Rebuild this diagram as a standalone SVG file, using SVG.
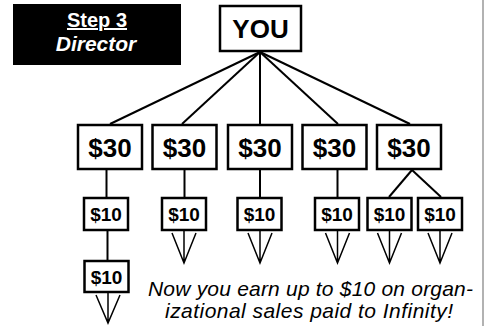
<svg xmlns="http://www.w3.org/2000/svg" width="485" height="326" viewBox="0 0 485 326">
<style>
  .box{fill:#fff;stroke:#000;stroke-width:2.5}
  .con{stroke:#000;stroke-width:2;fill:none}
  .arr{stroke:#000;stroke-width:1.5;fill:none;stroke-linejoin:miter}
  .t30{font-family:"Liberation Sans",Arial,sans-serif;font-weight:bold;font-size:26px;text-anchor:middle;fill:#000}
  .t10{font-family:"Liberation Sans",Arial,sans-serif;font-weight:bold;font-size:19px;text-anchor:middle;fill:#000}
  .note{font-family:"Liberation Sans",Arial,sans-serif;font-style:italic;font-size:21px;fill:#000}
</style>
<rect width="485" height="326" fill="#fff"/>
<line x1="483" y1="0" x2="483" y2="326" stroke="#999" stroke-width="1.5"/>

<g id="title">
  <rect x="13" y="4" width="168" height="61" fill="#000"/>
  <text x="97" y="27" font-family="Liberation Sans,Arial,sans-serif" font-weight="bold" font-size="20" fill="#fff" text-anchor="middle" text-decoration="underline">Step 3</text>
  <text x="96" y="51" font-family="Liberation Sans,Arial,sans-serif" font-weight="bold" font-style="italic" font-size="21" fill="#fff" text-anchor="middle">Director</text>
</g>

<g id="connectors">
  <line class="con" x1="260" y1="52" x2="110" y2="124"/>
  <line class="con" x1="260" y1="52" x2="182" y2="124"/>
  <line class="con" x1="260" y1="52" x2="260" y2="124"/>
  <line class="con" x1="260" y1="52" x2="338" y2="124"/>
  <line class="con" x1="260" y1="52" x2="410" y2="124"/>
  <line class="con" x1="106.5" y1="170" x2="106.5" y2="197"/>
  <line class="con" x1="184.5" y1="170" x2="184.5" y2="197"/>
  <line class="con" x1="260" y1="170" x2="260" y2="197"/>
  <line class="con" x1="337.5" y1="170" x2="337.5" y2="197"/>
  <line class="con" x1="412" y1="170" x2="389" y2="197"/>
  <line class="con" x1="412" y1="170" x2="441" y2="197"/>
  <line class="con" x1="107.5" y1="231" x2="107.5" y2="260"/>
  <!-- arrows -->
  <path class="arr" d="M184,231V263M172,233L184,263L196,233"/>
  <path class="arr" d="M260,231V263M248,233L260,263L272,233"/>
  <path class="arr" d="M337.5,231V263M325.5,233L337.5,263L349.5,233"/>
  <path class="arr" d="M389.5,231V263M377.5,233L389.5,263L401.5,233"/>
  <path class="arr" d="M440,231V263M428,233L440,263L452,233"/>
  <path class="arr" d="M108,292V323M96,295L108,323L120,295"/>
</g>

<g id="you"><rect class="box" x="220" y="6" width="81" height="45"/><text x="260.5" y="38" font-family="Liberation Sans,Arial,sans-serif" font-weight="bold" font-size="26" text-anchor="middle">YOU</text></g>

<g id="l1a"><rect class="box" x="78" y="125" width="64" height="44"/><text class="t30" x="110" y="157">$30</text></g>
<g id="l1b"><rect class="box" x="152.5" y="125" width="64" height="44"/><text class="t30" x="184.5" y="157">$30</text></g>
<g id="l1c"><rect class="box" x="228" y="125" width="64" height="44"/><text class="t30" x="260" y="157">$30</text></g>
<g id="l1d"><rect class="box" x="302.5" y="125" width="64" height="44"/><text class="t30" x="334.5" y="157">$30</text></g>
<g id="l1e"><rect class="box" x="377" y="125" width="64" height="44"/><text class="t30" x="409" y="157">$30</text></g>

<g id="l2a"><rect class="box" x="84" y="198" width="44" height="32"/><text class="t10" x="106" y="221">$10</text></g>
<g id="l2b"><rect class="box" x="162" y="198" width="44" height="32"/><text class="t10" x="184" y="221">$10</text></g>
<g id="l2c"><rect class="box" x="237.5" y="198" width="44" height="32"/><text class="t10" x="259.5" y="221">$10</text></g>
<g id="l2d"><rect class="box" x="315" y="198" width="44" height="32"/><text class="t10" x="337" y="221">$10</text></g>
<g id="l2e"><rect class="box" x="367.5" y="198" width="44" height="32"/><text class="t10" x="389.5" y="221">$10</text></g>
<g id="l2f"><rect class="box" x="418" y="198" width="44" height="32"/><text class="t10" x="440" y="221">$10</text></g>

<g id="l3a"><rect class="box" x="84.5" y="261" width="44" height="31"/><text class="t10" x="106.5" y="283.5">$10</text></g>

<g id="note">
  <text class="note" x="148" y="296" textLength="325" lengthAdjust="spacing">Now you earn up to $10 on organ-</text>
  <text class="note" x="165" y="318" textLength="288" lengthAdjust="spacing">izational sales paid to Infinity!</text>
</g>
</svg>
